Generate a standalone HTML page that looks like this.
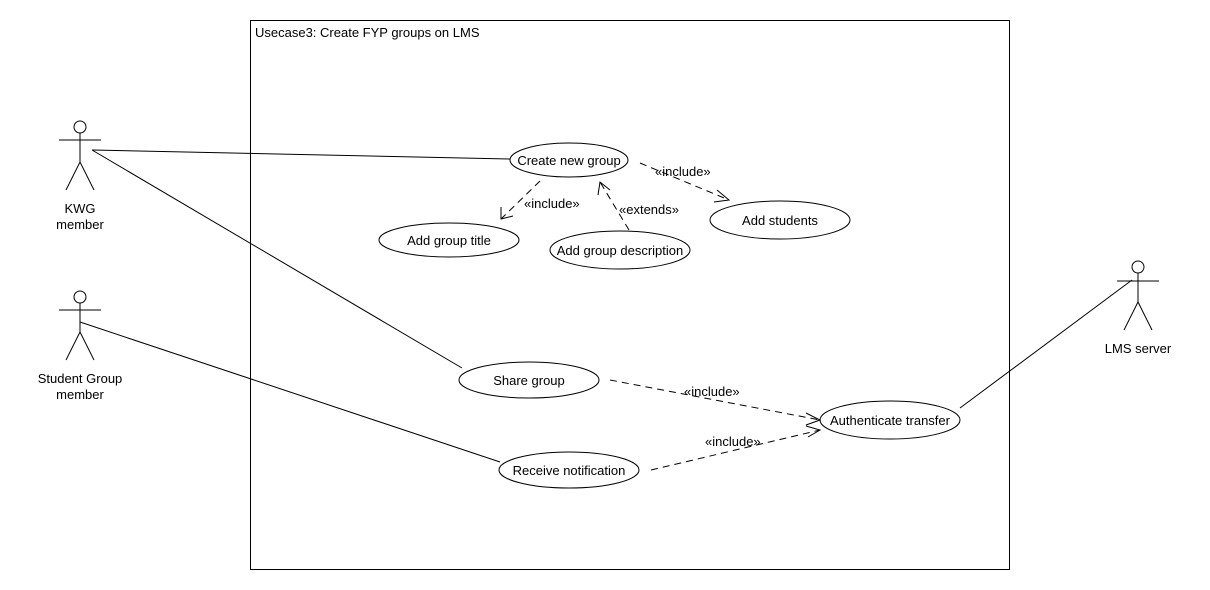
<!DOCTYPE html>
<html><head><style>
html,body{margin:0;padding:0;background:#fff;}
svg{display:block;}
text{font-family:"Liberation Sans",sans-serif;font-size:13px;fill:#000;}
</style></head><body>
<svg width="1210" height="590" viewBox="0 0 1210 590" xmlns="http://www.w3.org/2000/svg">
<rect x="250.5" y="20.5" width="759" height="549" fill="none" stroke="#000"/>
<text x="255" y="37">Usecase3: Create FYP groups on LMS</text>
<g stroke="#000" fill="none" stroke-width="1">
<!-- actors -->
<circle cx="80" cy="127" r="6"/>
<line x1="59" y1="140" x2="101" y2="140"/><line x1="80" y1="133" x2="80" y2="162"/>
<line x1="80" y1="162" x2="66" y2="190"/><line x1="80" y1="162" x2="94" y2="190"/>
<circle cx="80" cy="297" r="6"/>
<line x1="59" y1="310" x2="101" y2="310"/><line x1="80" y1="303" x2="80" y2="332"/>
<line x1="80" y1="332" x2="66" y2="360"/><line x1="80" y1="332" x2="94" y2="360"/>
<circle cx="1138" cy="267" r="6"/>
<line x1="1117" y1="281" x2="1159" y2="281"/><line x1="1138" y1="273" x2="1138" y2="302"/>
<line x1="1138" y1="302" x2="1124" y2="330"/><line x1="1138" y1="302" x2="1152" y2="330"/>
<!-- associations -->
<line x1="92" y1="150" x2="510" y2="159"/>
<line x1="92" y1="150" x2="462" y2="368"/>
<line x1="80" y1="322" x2="500" y2="462"/>
<line x1="960" y1="408" x2="1132" y2="280"/>
<!-- ellipses -->
<ellipse cx="569" cy="160" rx="59" ry="17"/>
<ellipse cx="449" cy="240" rx="70" ry="17"/>
<ellipse cx="620" cy="250" rx="70" ry="19"/>
<ellipse cx="780" cy="220" rx="70" ry="19"/>
<ellipse cx="529" cy="380" rx="70" ry="18"/>
<ellipse cx="569" cy="470" rx="70" ry="18"/>
<ellipse cx="890" cy="420" rx="70" ry="19"/>
<!-- dashed -->
<g stroke-dasharray="7,5">
<line x1="640" y1="163" x2="729" y2="200"/>
<line x1="540" y1="181" x2="501" y2="219"/>
<line x1="629" y1="230" x2="600" y2="182"/>
<line x1="610" y1="380" x2="820" y2="420"/>
<line x1="651" y1="470" x2="820" y2="430"/>
</g>
<!-- arrowheads -->
<polyline points="717,190 729,200 714,202"/>
<polyline points="501,207 501,219 513,216"/>
<polyline points="598,195 600,182 610,190"/>
<polyline points="806,413 820,420 806,425"/>
<polyline points="806,426 820,430 808,437"/>
</g>
<text x="569" y="165" text-anchor="middle">Create new group</text>
<text x="449" y="245" text-anchor="middle">Add group title</text>
<text x="620" y="255" text-anchor="middle">Add group description</text>
<text x="780" y="225" text-anchor="middle">Add students</text>
<text x="529" y="385" text-anchor="middle">Share group</text>
<text x="569" y="475" text-anchor="middle">Receive notification</text>
<text x="890" y="425" text-anchor="middle">Authenticate transfer</text>
<text x="655" y="176">«include»</text>
<text x="524" y="208">«include»</text>
<text x="619" y="214">«extends»</text>
<text x="684" y="396">«include»</text>
<text x="705" y="446">«include»</text>
<text x="80" y="213" text-anchor="middle">KWG</text>
<text x="80" y="229" text-anchor="middle">member</text>
<text x="80" y="383" text-anchor="middle">Student Group</text>
<text x="80" y="399" text-anchor="middle">member</text>
<text x="1138" y="353" text-anchor="middle">LMS server</text>
</svg>
</body></html>
